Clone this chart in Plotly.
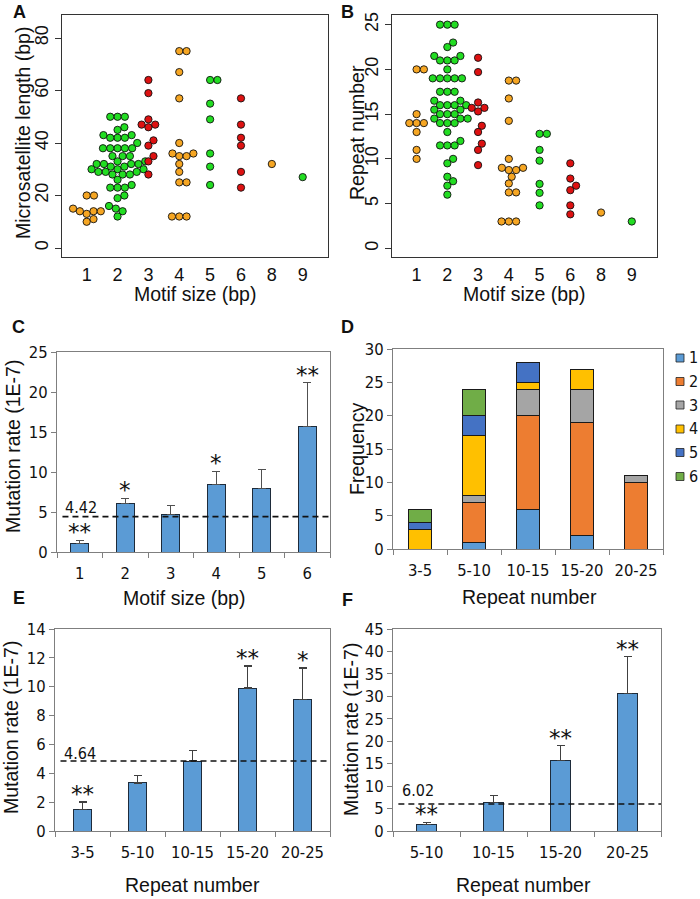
import math
import plotly.graph_objects as go

# ---------------- data ----------------
motif_sizes = ["1", "2", "3", "4", "5", "6", "8", "9"]

# Panel A: microsatellite length (bp) per motif size
len_m1 = [20, 20, 15, 14, 14, 14, 13, 11, 10]
len_m2 = [50, 50, 50, 46, 45, 43, 43, 42, 42, 42, 40, 38, 38, 38, 38, 38, 35, 35, 35, 33, 33,
          32, 32, 32, 32, 31, 31, 30, 30, 30, 29, 29, 29, 28, 28, 28, 26, 24, 23, 23, 23, 20,
          19, 16, 15, 14, 12]
len_m3 = [64, 59, 49, 47, 47, 46, 41, 39, 35, 33, 28]
len_m4 = [75, 75, 67, 57, 40, 36, 36, 35, 35, 32, 29, 25, 25, 12, 12, 12]
len_m5 = [64, 64, 55, 49, 36, 31, 24]
len_m6 = [57, 47, 42, 39, 29, 23]
len_m8 = [32]
len_m9 = [27]

# Panel B: repeat number per motif size
rep_m1 = [20, 20, 15, 14, 14, 14, 13, 11, 10]
rep_m2 = [25, 25, 25, 23, 22.5, 21.5, 21.5, 21, 21, 21, 20, 19, 19, 19, 19, 19, 17.5, 17.5, 17.5,
          16.5, 16.5, 16, 16, 16, 16, 15.5, 15.5, 15, 15, 15, 14.5, 14.5, 14.5, 14, 14, 14, 13,
          12, 11.5, 11.5, 11.5, 10, 9.5, 8, 7.5, 7, 6]
rep_m3 = [21.3, 19.7, 16.3, 15.7, 15.7, 15.3, 13.7, 13, 11.7, 11, 9.3]
rep_m4 = [18.75, 18.75, 16.75, 14.25, 10, 9, 9, 8.75, 8.75, 8, 7.25, 6.25, 6.25, 3, 3, 3]
rep_m5 = [12.8, 12.8, 11, 9.8, 7.2, 6.2, 4.8]
rep_m6 = [9.5, 7.8, 7, 6.5, 4.8, 3.8]
rep_m8 = [4]
rep_m9 = [3]

# Panel C: mutation rate by motif size
c_motifs = ["1", "2", "3", "4", "5", "6"]
c_rate = [1.08, 6.05, 4.73, 8.45, 7.93, 15.65]
c_err = [0.37, 0.65, 1.1, 1.65, 2.4, 5.5]
c_sig = ["**", "*", "", "*", "", "**"]
c_mean = 4.42
c_mean_label = "4.42"

# Panel D: frequency by repeat number, stacked by motif size
d_bins = ["3-5", "5-10", "10-15", "15-20", "20-25"]
d_series_names = ["1", "2", "3", "4", "5", "6"]
d_m1 = [0, 1, 6, 2, 0]
d_m2 = [0, 6, 14, 17, 10]
d_m3 = [0, 1, 4, 5, 1]
d_m4 = [3, 9, 1, 3, 0]
d_m5 = [1, 3, 3, 0, 0]
d_m6 = [2, 4, 0, 0, 0]

# Panel E: mutation rate by repeat number
e_bins = ["3-5", "5-10", "10-15", "15-20", "20-25"]
e_rate = [1.50, 3.33, 4.85, 9.91, 9.10]
e_err = [0.51, 0.53, 0.74, 1.52, 2.20]
e_sig = ["**", "", "", "**", "*"]
e_mean = 4.85
e_mean_label = "4.64"

# Panel F: mutation rate by repeat number
f_bins = ["5-10", "10-15", "15-20", "20-25"]
f_rate = [1.41, 6.37, 15.69, 30.57]
f_err = [0.51, 1.48, 3.33, 8.22]
f_sig = ["**", "", "**", "**"]
f_mean = 6.02
f_mean_label = "6.02"

# ---------------- styling ----------------
W, H = 700, 899
R_FONT = "Liberation Sans, Arial, sans-serif"
X_FONT = "DejaVu Sans Condensed, Noto Sans, DejaVu Sans, sans-serif"
STAR_FONT = "DejaVu Sans, sans-serif"
ORANGE, GREEN, RED = "#F6A623", "#22DD22", "#DD1111"
group_colors = [ORANGE, GREEN, RED, ORANGE, GREEN, RED, ORANGE, GREEN]
d_colors = ["#5B9BD5", "#ED7D31", "#A5A5A5", "#FFC000", "#4472C4", "#70AD47"]
BAR_BLUE = "#5B9BD5"
BAR_LINE = "#1E2B3A"
AX_GRAY = "#7F7F7F"


def px(x):
    return x / W


def py(y):
    return 1 - y / H


def dom_x(a, b):
    return [px(a), px(b)]


def dom_y(top, bottom):
    return [py(bottom), py(top)]


# beeswarm layout (positions computed from values, in pixel space)
def swarm(vals, ppx, ppy, d=7.3):
    order = sorted(range(len(vals)), key=lambda i: vals[i])
    placed = []
    offs = [0.0] * len(vals)
    for i in order:
        yv = vals[i] * ppy
        cands = [0.0]
        for (qx, qy) in placed:
            dy = abs(qy - yv)
            if dy < d:
                dx = math.sqrt(d * d - dy * dy)
                cands += [qx + dx, qx - dx]
        ok = [c for c in cands
              if all((c - qx) ** 2 + (yv - qy) ** 2 >= d * d - 1e-6 for qx, qy in placed)]
        best = min(ok, key=lambda c: (round(abs(c), 6), -c))
        placed.append((best, yv))
        offs[i] = best / ppx
    return offs


fig = go.Figure()

# ---------- Panels A & B ----------
A_box = (62, 328, 15, 257)
B_box = (392, 657, 15, 257)
xr = [0.2, 8.82]
A_yr = [-3.43, 88.76]
B_yr = [-0.97, 26.08]

len_groups = [len_m1, len_m2, len_m3, len_m4, len_m5, len_m6, len_m8, len_m9]
rep_groups = [rep_m1, rep_m2, rep_m3, rep_m4, rep_m5, rep_m6, rep_m8, rep_m9]

for groups, box, yr, xa, ya in [(len_groups, A_box, A_yr, "x", "y"),
                                (rep_groups, B_box, B_yr, "x2", "y2")]:
    ppx = (box[1] - box[0]) / (xr[1] - xr[0])
    ppy = (box[3] - box[2]) / (yr[1] - yr[0])
    for gi, vals in enumerate(groups):
        offs = swarm(vals, ppx, ppy)
        fig.add_trace(go.Scatter(
            x=[gi + 1 + o for o in offs], y=vals, mode="markers",
            marker=dict(size=7.3, color=group_colors[gi],
                        line=dict(color="#111111", width=0.9)),
            xaxis=xa, yaxis=ya, showlegend=False, hoverinfo="y"))

# ---------- Panel C ----------
fig.add_trace(go.Bar(
    x=c_motifs, y=c_rate, width=0.4, marker=dict(color=BAR_BLUE, line=dict(color=BAR_LINE, width=1)),
    error_y=dict(type="data", array=c_err, arrayminus=[0] * len(c_err), symmetric=False,
                 color="#505050", thickness=1.2, width=4),
    xaxis="x3", yaxis="y3", showlegend=False))

# ---------- Panel D ----------
for name, vals, col in zip(d_series_names, [d_m1, d_m2, d_m3, d_m4, d_m5, d_m6], d_colors):
    fig.add_trace(go.Bar(
        x=d_bins, y=vals, name=name, width=0.41,
        marker=dict(color=col, line=dict(color="#1a1a1a", width=1)),
        xaxis="x4", yaxis="y4", showlegend=False))

# ---------- Panel E ----------
fig.add_trace(go.Bar(
    x=e_bins, y=e_rate, width=0.33, marker=dict(color=BAR_BLUE, line=dict(color=BAR_LINE, width=1)),
    error_y=dict(type="data", array=e_err, arrayminus=[0] * len(e_err), symmetric=False,
                 color="#404040", thickness=1.2, width=4),
    xaxis="x5", yaxis="y5", showlegend=False))

# ---------- Panel F ----------
fig.add_trace(go.Bar(
    x=f_bins, y=f_rate, width=0.31, marker=dict(color=BAR_BLUE, line=dict(color=BAR_LINE, width=1)),
    error_y=dict(type="data", array=f_err, arrayminus=[0] * len(f_err), symmetric=False,
                 color="#404040", thickness=1.2, width=4),
    xaxis="x6", yaxis="y6", showlegend=False))

# ---------- axes ----------
r_tick_font = dict(family=R_FONT, size=18, color="#111111")
x_tick_font = dict(family=X_FONT, size=16.5, color="#111111")

layout_axes = {}
for i, box, yr, ytv in [(1, A_box, A_yr, [0, 20, 40, 60, 80]),
                        (2, B_box, B_yr, [0, 5, 10, 15, 20, 25])]:
    sx = "" if i == 1 else str(i)
    layout_axes["xaxis" + sx] = dict(
        domain=dom_x(box[0], box[1]), anchor="y" + sx, range=xr,
        tickvals=list(range(1, len(motif_sizes) + 1)), ticktext=motif_sizes,
        ticks="", showline=True, mirror=True, linecolor="#333333", linewidth=1,
        showgrid=False, zeroline=False, tickfont=r_tick_font, ticklabelstandoff=1,
        tickangle=0, automargin=False)
    layout_axes["yaxis" + sx] = dict(
        domain=dom_y(box[2], box[3]), anchor="x" + sx, range=yr,
        tickvals=ytv, ticks="outside", ticklen=6, tickcolor="#333333",
        tickangle=-90, showline=True, mirror=True, linecolor="#333333", linewidth=1,
        showgrid=False, zeroline=False, tickfont=r_tick_font, automargin=False)

excel = [
    (3, (57, 330, 352, 552), c_motifs, [0, 25], 5),
    (4, (393, 663, 349, 549), d_bins, [0, 30], 5),
    (5, (55, 330, 629, 831), e_bins, [0, 14], 2),
    (6, (393, 661, 629, 831), f_bins, [0, 45], 5),
]
for i, box, cats, yr, dt in excel:
    s = str(i)
    layout_axes["xaxis" + s] = dict(
        domain=dom_x(box[0], box[1]), anchor="y" + s, type="category",
        categoryorder="array", categoryarray=cats, range=[-0.5, len(cats) - 0.5],
        tickson="boundaries", ticks="outside", ticklen=5, tickcolor=AX_GRAY,
        showline=True, mirror=True, linecolor=AX_GRAY, linewidth=1,
        showgrid=False, zeroline=False, tickfont=x_tick_font, ticklabelstandoff=6,
        tickangle=0, automargin=False)
    layout_axes["yaxis" + s] = dict(
        domain=dom_y(box[2], box[3]), anchor="x" + s, range=yr, dtick=dt, tick0=0,
        ticks="outside", ticklen=5, tickcolor=AX_GRAY,
        showline=True, mirror=True, linecolor=AX_GRAY, linewidth=1,
        showgrid=False, zeroline=False, tickfont=x_tick_font, automargin=False)

fig.update_layout(**layout_axes)

# ---------- mean lines ----------
shapes = []
for i, mean in [(3, c_mean), (5, e_mean), (6, f_mean)]:
    shapes.append(dict(type="line", xref="x%d domain" % i, yref="y%d" % i,
                       x0=0.02, x1=1.0, y0=mean, y1=mean,
                       line=dict(color="#111111", width=1.6, dash="6px,4px")))

annotations = []


def ann(text, x, y, size, family, angle=0, bold=False, xanchor="center", yanchor="middle"):
    annotations.append(dict(
        text=("<b>%s</b>" % text) if bold else text, x=px(x), y=py(y), xref="paper", yref="paper",
        showarrow=False, textangle=angle, xanchor=xanchor, yanchor=yanchor,
        font=dict(family=family, size=size, color="#111111")))


# mean labels
ann(c_mean_label, 63, 507, 16, X_FONT, xanchor="left")
ann(e_mean_label, 62, 753, 16, X_FONT, xanchor="left")
ann(f_mean_label, 400, 790, 16, X_FONT, xanchor="left")

# significance stars above error bars (x given as category index)
for i, rate, err, sig in [(3, c_rate, c_err, c_sig),
                          (5, e_rate, e_err, e_sig),
                          (6, f_rate, f_err, f_sig)]:
    for k, (r, e, s) in enumerate(zip(rate, err, sig)):
        if s:
            annotations.append(dict(
                text=s, x=k, y=r + e, xref="x%d" % i, yref="y%d" % i, showarrow=False,
                xanchor="center", yanchor="middle", yshift=8,
                font=dict(family=STAR_FONT, size=23, color="#111111")))

# axis titles
TS = 19.5
ann("Microsatellite length (bp)", 23, 133, TS, R_FONT, angle=-90)
ann("Repeat number", 357, 133, TS, R_FONT, angle=-90)
ann("Motif size (bp)", 195, 294, TS, R_FONT)
ann("Motif size (bp)", 524, 294, TS, R_FONT)
ann("Mutation rate (1E-7)", 13, 447, TS, R_FONT, angle=-90)
ann("Frequency", 357, 449, TS, R_FONT, angle=-90)
ann("Motif size (bp)", 184, 598, TS, R_FONT)
ann("Repeat number", 529, 597, TS, R_FONT)
ann("Mutation rate (1E-7)", 11, 728, TS, R_FONT, angle=-90)
ann("Mutation rate (1E-7)", 351, 730, TS, R_FONT, angle=-90)
ann("Repeat number", 192, 885, TS, R_FONT)
ann("Repeat number", 523, 885, TS, R_FONT)

# panel letters
for letter, x, y in [("A", 19, 12), ("B", 347, 12), ("C", 18, 327),
                     ("D", 347, 327), ("E", 19, 598), ("F", 347, 600)]:
    ann(letter, x, y, 18, R_FONT, bold=True)

# legend for panel D
leg_y = [358, 381.5, 405, 429, 452.5, 476.5]
for name, col, yy in zip(d_series_names, d_colors, leg_y):
    shapes.append(dict(type="rect", xref="paper", yref="paper",
                       x0=px(676), x1=px(684), y0=py(yy + 4), y1=py(yy - 4),
                       fillcolor=col, line=dict(color="#222222", width=0.8)))
    ann(name, 687, yy, 16, X_FONT, xanchor="left")

fig.update_layout(
    width=W, height=H, margin=dict(l=0, r=0, t=0, b=0, autoexpand=False),
    paper_bgcolor="white", plot_bgcolor="white",
    barmode="stack", showlegend=False,
    shapes=shapes, annotations=annotations,
)

fig.write_html("out.html", config={"displayModeBar": False},
               post_script="document.body.style.margin='0';document.body.style.overflow='hidden';")
